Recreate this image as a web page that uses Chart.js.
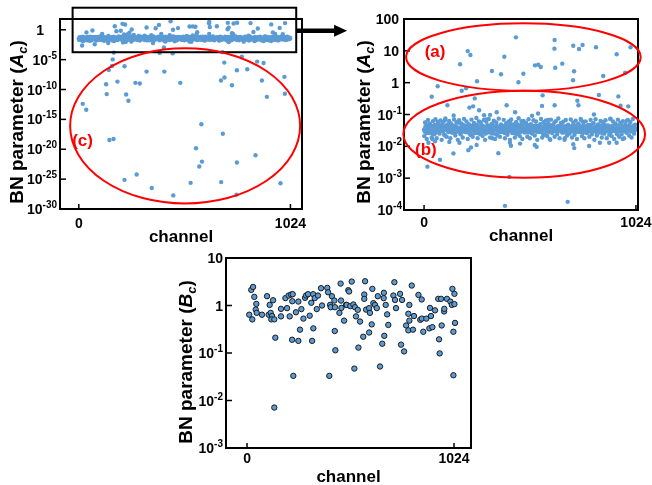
<!DOCTYPE html>
<html><head><meta charset="utf-8">
<script src="https://cdn.jsdelivr.net/npm/chart.js@4"></script>
<style>
html,body{margin:0;padding:0;background:#fff;}
body{width:652px;height:485px;position:relative;overflow:hidden;}
canvas{position:absolute;}
</style></head>
<body>
<canvas id="c1" width="350" height="245" style="left:0;top:0"></canvas>
<canvas id="c2" width="332" height="245" style="left:320px;top:0"></canvas>
<canvas id="c3" width="320" height="240" style="left:160px;top:245px"></canvas>
<script>
// ---------- DATA ----------
const channelTicks = [0, 1024];
const expTicksA1 = [-30, -25, -20, -15, -10, -5, 0];
const expTicksA2 = [-4, -3, -2, -1, 0, 1, 2];
const expTicksB = [-3, -2, -1, 0, 1];

// A_c dense band core: one value every 3 channels (0,3,6,...,1023)
const bandStep = 3;
const bandA = [
.034,.029,.041,.037,.026,.045,.033,.038,.030,.052,.028,.036,.043,.031,.024,.039,.035,.047,.032,.027,
.040,.033,.058,.030,.036,.025,.044,.038,.031,.049,.035,.029,.042,.034,.022,.037,.046,.032,.039,.028,
.035,.041,.030,.053,.036,.027,.033,.045,.038,.031,.026,.043,.034,.040,.029,.037,.055,.032,.036,.024,
.042,.035,.030,.047,.033,.038,.028,.044,.036,.031,.039,.027,.050,.034,.041,.030,.036,.023,.045,.033,
.037,.029,.043,.035,.032,.048,.026,.038,.034,.041,.030,.057,.033,.036,.028,.044,.039,.031,.035,.025,
.040,.034,.046,.030,.037,.032,.043,.027,.038,.035,.051,.029,.036,.042,.033,.039,.024,.045,.031,.037,
.034,.041,.028,.036,.049,.032,.038,.030,.044,.035,.026,.040,.033,.047,.031,.037,.029,.043,.036,.054,
.032,.039,.027,.045,.034,.030,.042,.036,.025,.038,.033,.048,.031,.040,.035,.028,.044,.037,.032,.041,
.029,.036,.052,.033,.039,.030,.043,.035,.027,.046,.034,.038,.031,.041,.026,.037,.044,.032,.036,.030,
.045,.033,.038,.028,.042,.035,.031,.050,.036,.029,.040,.034,.024,.043,.037,.032,.047,.030,.039,.035,
.027,.041,.034,.038,.031,.045,.036,.029,.042,.033,.056,.030,.037,.034,.040,.028,.044,.035,.032,.039,
.036,.030,.046,.033,.041,.027,.038,.035,.043,.031,.037,.025,.048,.034,.039,.032,.042,.029,.036,.044,
.033,.038,.030,.045,.035,.028,.041,.037,.032,.050,.034,.029,.043,.036,.031,.039,.026,.046,.033,.038,
.031,.042,.035,.027,.044,.036,.033,.040,.029,.047,.034,.038,.030,.053,.035,.032,.041,.028,.037,.043,
.034,.030,.039,.036,.045,.031,.038,.026,.042,.035,.033,.048,.029,.040,.037,.032,.044,.030,.036,.041,
.035,.028,.043,.033,.039,.031,.046,.036,.030,.042,.034,.024,.038,.045,.032,.037,.029,.050,.035,.033,
.040,.031,.037,.044,.030,.036,.027,.042,.034,.039,.032,.047,.035,.029,.041,.036,.033,.038,.045,.031,
.037,.034
];
// A_c band fringe: one value every 6 channels starting at channel 1 (1,7,13,...,1021)
const fringeStart = 1, fringeStep = 6;
const fringeA = [
.021,.055,.017,.068,.026,.047,.019,.062,.024,.071,.018,.051,.029,.065,.016,.058,.023,.075,.020,.049,
.063,.018,.044,.027,.070,.022,.057,.016,.066,.025,.052,.019,.073,.028,.060,.017,.046,.023,.069,.020,
.054,.026,.078,.018,.061,.024,.048,.021,.067,.016,.059,.027,.072,.019,.050,.025,.064,.017,.056,.022,
.074,.020,.045,.028,.068,.018,.053,.023,.061,.016,.070,.026,.049,.019,.058,.024,.076,.021,.047,.017,
.063,.027,.055,.020,.071,.018,.050,.025,.066,.022,.060,.016,.044,.028,.072,.019,.057,.023,.065,.021,
.052,.017,.069,.026,.048,.020,.062,.024,.075,.018,.054,.027,.059,.016,.067,.022,.046,.025,.070,.019,
.056,.023,.064,.017,.051,.028,.073,.021,.058,.018,.061,.026,.047,.020,.068,.024,.053,.016,.071,.022,
.049,.027,.063,.019,.057,.025,.066,.018,.045,.023,.074,.021,.060,.017,.052,.026,.069,.020,.055,.024,
.062,.018,.050,.027,.067,.022,.058,.019,.072,.025,.048
];

// A_c outliers visible in both upper panels (channel, value)
const outChA = [444,211,224,174,388,328,372,256,456,631,630,721,749,766,831,931,998,536,552,564,480,634,668,725,720,866,972,
  66,182,203,37,113,245,237,219,266,143,290,351,399,440,319,845,939,573,570,631,741,746,950,987,522,551,821,
  16,77,142,214,227,254,359,412,391,694,420,464,535,544,726,798,850,895,931,53,122,171,415,721,21,
  5,100,300,470,600,760,900,980,40,330,610,680,960];
const outValA = [26.5,9.8,7.4,3.8,6.5,2.33,1.83,1.11,1.03,22,11.7,14.4,11.4,15.2,12.9,7.8,12.9,3.5,3.67,3.1,1.9,2.95,3.95,2.28,1.19,1.62,2.05,
  0.77,0.56,0.67,0.36,0.195,0.32,0.18,0.165,0.136,0.093,0.095,0.118,0.195,0.118,0.097,0.41,0.37,0.40,0.186,0.195,0.27,0.195,0.19,0.18,0.091,0.107,0.1,
  0.0023,0.0038,0.006,0.0076,0.0092,0.011,0.0061,0.0011,0.000135,0.00018,0.0104,0.0122,0.011,0.0096,0.0088,0.0102,0.013,0.013,0.013,0.0145,0.0138,0.013,0.013,0.0117,0.013,
  0.056,0.065,0.07,0.062,0.068,0.066,0.072,0.064,0.017,0.018,0.016,0.018,0.017];

// A_c deep outliers (full-range panel only)
const lowChA = [169,164,161,145,221,328,414,187,132,274,295,135,229,240,19,36,491,454,704,789,765,815,863,894,688,705,741,886,910,995,997,
  593,697,148,168,567,855,596,583,765,280,221,541,689,353,457,763,976];
const lowValA = [1.5e-4,1.1e-5,8.5e-7,1.9e-7,7.6e-7,1e-7,1e-7,2.1e-9,7.6e-10,1.3e-9,1e-9,1.7e-11,1.5e-11,1.3e-12,4e-13,4e-14,1.3e-9,1.1e-4,3.2e-6,3.2e-5,1.7e-7,2.4e-7,4.7e-6,2.7e-6,3.2e-9,1e-8,5.2e-10,3.2e-9,5.9e-12,1.3e-8,1.9e-11,
  1.5e-16,4e-18,3.5e-19,5.2e-19,1.5e-20,1e-21,8.5e-23,1.3e-23,5.9e-23,5.9e-25,7.6e-26,2.4e-26,3.2e-26,3.2e-27,1.9e-28,2.5e-28,2.1e-26];

// B_c (channel, value)
const chB = [11,26,21,30,36,46,43,48,74,99,107,112,117,124,129,120,135,140,135,168,168,190,198,206,211,218,226,224,223,229,242,254,254,262,269,279,287,292,302,310,318,322,328,327,335,345,351,366,371,397,401,407,411,414,420,432,434,437,435,457,465,467,480,490,463,
  518,501,505,493,511,526,534,548,539,559,551,531,575,584,580,580,589,604,608,617,604,620,625,633,642,647,658,669,679,676,677,686,693,699,729,724,732,737,757,767,762,777,787,798,803,803,798,815,826,821,848,864,857,872,865,887,905,910,902,917,930,946,960,963,950,953,975,976,989,1006,1013,1026,1016,1026,1029,1021,1021];
const valB = [0.64,0.51,2.13,2.46,1.52,1.08,0.82,0.70,0.64,1.57,0.64,1.03,0.70,0.60,1.29,0.51,0.51,0.21,0.0071,0.85,0.59,1.43,0.88,1.62,0.59,1.70,1.73,1.23,0.19,0.033,0.72,1.21,0.18,0.31,0.84,0.53,1.45,1.62,1.73,0.61,1.14,0.18,0.33,1.73,1.43,0.84,1.62,2.31,1.0,2.35,1.90,0.033,1.03,0.92,1.57,1.27,0.29,0.114,0.92,0.70,1.27,0.89,0.48,1.03,2.89,
  3.19,2.10,1.97,1.03,0.97,1.05,0.92,0.81,0.59,0.46,0.13,0.047,0.22,3.24,1.70,1.38,0.82,0.88,0.70,0.40,0.27,2.24,1.12,1.03,0.88,1.57,0.052,0.157,0.23,1.43,1.85,1.03,0.65,0.39,3.09,1.62,1.31,0.88,1.76,1.31,0.15,0.108,0.38,0.67,1.03,0.48,0.30,2.63,0.60,0.31,1.67,1.34,0.50,0.28,0.53,0.53,0.89,0.60,0.33,0.35,0.79,1.38,1.38,0.38,0.194,0.098,0.75,0.85,1.38,1.21,1.03,1.07,2.24,1.76,0.43,0.28,0.034];

// ---------- BUILD ----------
const FONT = '"Liberation Sans", Arial, Helvetica, sans-serif';
const BLUE = '#5b9bd5';
const pts = (xs, ys) => xs.map((x, i) => ({x, y: ys[i]}));
const bandPts = bandA.map((v, i) => ({x: i * bandStep, y: v}))
  .concat(fringeA.map((v, i) => ({x: fringeStart + i * fringeStep, y: v})));

function drawYTitle(ctx, xb, yc, letter) {
  const fM = 'bold 19px ' + FONT, fI = 'italic bold 19px ' + FONT, fS = 'italic bold 13px ' + FONT;
  ctx.save();
  ctx.fillStyle = '#000'; ctx.textBaseline = 'alphabetic'; ctx.textAlign = 'left';
  ctx.font = fM; const w1 = ctx.measureText('BN parameter (').width, w4 = ctx.measureText(')').width;
  ctx.font = fI; const w2 = ctx.measureText(letter).width;
  ctx.font = fS; const w3 = ctx.measureText('c').width;
  const tot = w1 + w2 + w3 + w4;
  ctx.translate(xb, yc); ctx.rotate(-Math.PI / 2);
  let cx = -tot / 2;
  ctx.font = fM; ctx.fillText('BN parameter (', cx, 0); cx += w1;
  ctx.font = fI; ctx.fillText(letter, cx, 0); cx += w2;
  ctx.font = fS; ctx.fillText('c', cx, 4); cx += w3;
  ctx.font = fM; ctx.fillText(')', cx, 0);
  ctx.restore();
}

function frameAxes(o) {
  return {
    id: 'frameAxes',
    afterDatasetsDraw(chart) {
      const {ctx, chartArea: a, scales: {x, y}} = chart;
      ctx.save();
      ctx.strokeStyle = '#000'; ctx.lineWidth = 2;
      ctx.strokeRect(a.left, a.top, a.right - a.left, a.bottom - a.top);
      ctx.lineWidth = 1.5;
      ctx.fillStyle = '#000';
      o.yExp.forEach(e => {
        const py = y.getPixelForValue(Math.pow(10, e));
        ctx.beginPath(); ctx.moveTo(a.left, py); ctx.lineTo(a.left + 6, py); ctx.stroke();
        const base = 'bold 14px ' + FONT, sm = 'bold 10px ' + FONT;
        ctx.textBaseline = 'alphabetic'; ctx.textAlign = 'left';
        if (e >= 0 && e <= 2) {
          const t = String(Math.pow(10, e));
          ctx.font = base; const w = ctx.measureText(t).width;
          ctx.fillText(t, a.left - o.plainGap - w, py + 5);
        } else {
          const ex = String(e);
          ctx.font = sm; const we = ctx.measureText(ex).width;
          ctx.font = base; const wb = ctx.measureText('10').width;
          const x0 = a.left - o.supGap - we - wb;
          ctx.fillText('10', x0, py + 5);
          ctx.font = sm; ctx.fillText(ex, x0 + wb, py - 1);
        }
      });
      channelTicks.forEach(v => {
        const px = x.getPixelForValue(v);
        ctx.beginPath(); ctx.moveTo(px, a.bottom); ctx.lineTo(px, a.bottom - 5); ctx.stroke();
        ctx.font = 'bold 14px ' + FONT; ctx.textAlign = 'center'; ctx.textBaseline = 'alphabetic';
        ctx.fillText(String(v), px, o.xLabelBase);
      });
      ctx.font = 'bold 17px ' + FONT; ctx.textAlign = 'center';
      ctx.fillText('channel', (a.left + a.right) / 2, o.xTitleBase);
      drawYTitle(ctx, o.yTitleX, o.yTitleY, o.letter);
      if (o.annotate) o.annotate(ctx, x, y);
      ctx.restore();
    }
  };
}

function ellipseBox(ctx, x, y, x1, x2, e1, e2) {
  const l = x.getPixelForValue(x1), r = x.getPixelForValue(x2);
  const t = y.getPixelForValue(Math.pow(10, e1)), b = y.getPixelForValue(Math.pow(10, e2));
  ctx.beginPath();
  ctx.ellipse((l + r) / 2, (t + b) / 2, (r - l) / 2, (b - t) / 2, 0, 0, Math.PI * 2);
  ctx.strokeStyle = '#ff0000'; ctx.lineWidth = 2; ctx.stroke();
}
function redLabel(ctx, x, y, text, xv, ev) {
  ctx.fillStyle = '#ff0000'; ctx.font = 'bold 17px ' + FONT;
  ctx.textAlign = 'center'; ctx.textBaseline = 'middle';
  ctx.fillText(text, x.getPixelForValue(xv), y.getPixelForValue(Math.pow(10, ev)));
}

function makeChart(id, datasets, sc, pad, plugin) {
  return new Chart(document.getElementById(id), {
    type: 'scatter',
    data: {datasets},
    options: {
      responsive: false, animation: false, devicePixelRatio: 1,
      layout: {padding: pad},
      plugins: {legend: {display: false}, tooltip: {enabled: false}},
      scales: {
        x: {type: 'linear', min: sc.xmin, max: sc.xmax, display: false},
        y: {type: 'logarithmic', min: sc.ymin, max: sc.ymax, display: false}
      }
    },
    plugins: [plugin]
  });
}

const dotA = {backgroundColor: BLUE, borderWidth: 0, pointRadius: 2.2};

// Panel 1: full range A_c
makeChart('c1', [
  Object.assign({data: bandPts}, dotA),
  Object.assign({data: pts(outChA, outValA)}, dotA),
  Object.assign({data: pts(lowChA, lowValA)}, dotA)
], {xmin: -91, xmax: 1080, ymin: 1e-30, ymax: Math.pow(10, 1.8)},
{left: 60, top: 19, right: 48, bottom: 36},
frameAxes({yExp: expTicksA1, plainGap: 16, supGap: 3, xLabelBase: 228, xTitleBase: 242, yTitleX: 23, yTitleY: 122, letter: 'A',
  annotate(ctx, x, y) {
    const l = x.getPixelForValue(-30), r = x.getPixelForValue(1052);
    const t = y.getPixelForValue(Math.pow(10, 3.69)), b = y.getPixelForValue(Math.pow(10, -3.76));
    ctx.strokeStyle = '#000'; ctx.lineWidth = 2; ctx.strokeRect(l, t, r - l, b - t);
    const ay = y.getPixelForValue(Math.pow(10, -0.15));
    const hx = x.getPixelForValue(1235), tip = x.getPixelForValue(1298);
    ctx.lineWidth = 4.5; ctx.beginPath(); ctx.moveTo(r, ay); ctx.lineTo(hx + 1, ay); ctx.stroke();
    ctx.fillStyle = '#000'; ctx.beginPath(); ctx.moveTo(hx, ay - 6); ctx.lineTo(tip, ay); ctx.lineTo(hx, ay + 6); ctx.closePath(); ctx.fill();
    ellipseBox(ctx, x, y, -42, 1071, -3.09, -29.08);
    redLabel(ctx, x, y, '(c)', 18, -18.7);
  }}));

// Panel 2: zoom on A_c
makeChart('c2', [
  Object.assign({data: bandPts}, dotA),
  Object.assign({data: pts(outChA, outValA)}, dotA)
], {xmin: -97, xmax: 1034, ymin: 1e-4, ymax: 100},
{left: 84, top: 19, right: 14, bottom: 35},
frameAxes({yExp: expTicksA2, plainGap: 5, supGap: 2, xLabelBase: 227, xTitleBase: 241, yTitleX: 50, yTitleY: 122, letter: 'A',
  annotate(ctx, x, y) {
    ellipseBox(ctx, x, y, -87, 1047, 1.865, -0.253);
    ellipseBox(ctx, x, y, -100, 1068, -0.253, -2.986);
    redLabel(ctx, x, y, '(a)', 53, 0.963);
    redLabel(ctx, x, y, '(b)', 9, -2.12);
  }}));

// Panel 3: B_c
makeChart('c3', [
  {data: pts(chB, valB), backgroundColor: BLUE, borderColor: '#1b1b1b', borderWidth: 1, pointRadius: 2.7}
], {xmin: -104, xmax: 1108, ymin: 1e-3, ymax: 10},
{left: 66, top: 13, right: 9, bottom: 37},
frameAxes({yExp: expTicksB, plainGap: 3, supGap: 3, xLabelBase: 218, xTitleBase: 237, yTitleX: 32, yTitleY: 117, letter: 'B'}));
</script>
</body></html>
